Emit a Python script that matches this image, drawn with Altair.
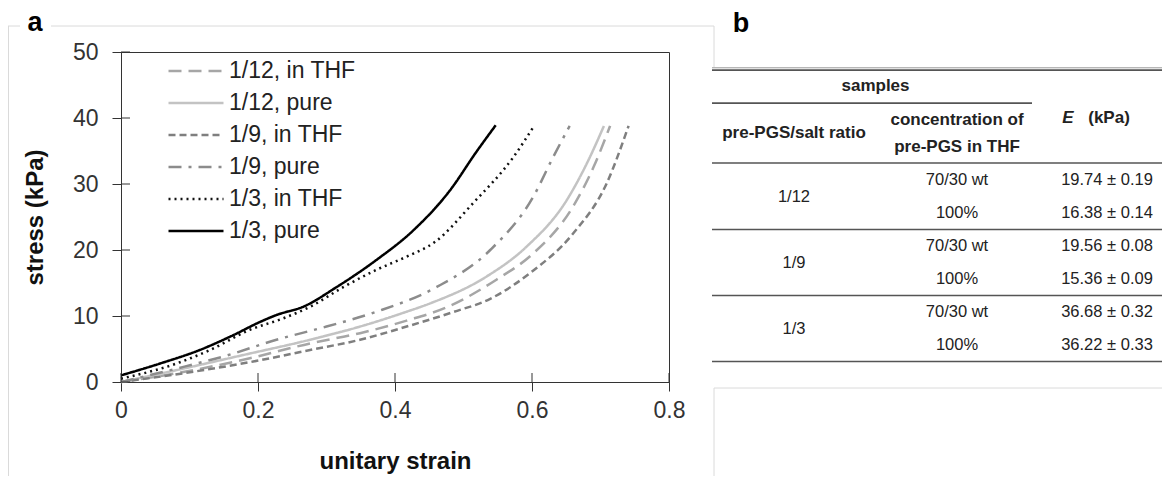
import altair as alt
import pandas as pd

# ---------------- panel a : stress-strain curves ----------------
series_names = ["1/12, in THF", "1/12, pure", "1/9, in THF", "1/9, pure", "1/3, in THF", "1/3, pure"]
series_colors = ["#a6a6a6", "#c3c3c3", "#7f7f7f", "#8c8c8c", "#111111", "#000000"]
series_dashes = [[13, 7], [1, 0], [7, 4], [13, 7, 3, 7], [2, 4], [1, 0]]

strain_12_thf = [0, 0.106, 0.188, 0.276, 0.349, 0.417, 0.475, 0.548, 0.602, 0.660, 0.690, 0.714]
stress_12_thf = [0, 1.8, 3.6, 5.85, 7.4, 9.3, 11.3, 15.5, 19.5, 26.6, 32.6, 38.8]

strain_12_pure = [0, 0.081, 0.179, 0.276, 0.349, 0.417, 0.451, 0.534, 0.592, 0.651, 0.680, 0.705]
stress_12_pure = [0, 1.8, 4.1, 6.4, 8.4, 10.65, 11.9, 16.0, 20.5, 27.6, 33.1, 38.8]

strain_9_thf = [0, 0.106, 0.193, 0.276, 0.349, 0.417, 0.485, 0.539, 0.597, 0.660, 0.709, 0.741]
stress_9_thf = [0, 1.56, 3.1, 4.85, 6.4, 8.4, 10.6, 12.6, 16.5, 22.5, 30.1, 38.8]

strain_9_pure = [0, 0.08, 0.154, 0.227, 0.30, 0.373, 0.461, 0.539, 0.602, 0.631, 0.655]
stress_9_pure = [0, 2.0, 4.0, 6.4, 8.4, 10.65, 14.4, 20.0, 28.1, 34.1, 38.8]

strain_3_thf = [0, 0.081, 0.13, 0.188, 0.237, 0.276, 0.325, 0.373, 0.417, 0.458, 0.514, 0.573, 0.603]
stress_3_thf = [0.5, 2.8, 4.85, 7.9, 9.65, 11.4, 14.4, 17.0, 19.0, 21.2, 27.1, 34.1, 38.8]

strain_3_pure = [0, 0.057, 0.115, 0.164, 0.203, 0.227, 0.266, 0.315, 0.373, 0.427, 0.480, 0.519, 0.547]
stress_3_pure = [1.0, 2.8, 4.85, 7.1, 9.1, 10.15, 11.4, 14.4, 18.5, 23.0, 29.0, 34.9, 38.9]

x_ticks = [0, 0.2, 0.4, 0.6, 0.8]
y_ticks = [0, 10, 20, 30, 40, 50]

# ---------------- panel b : table ----------------
ratio_col = ["1/12", "1/12", "1/9", "1/9", "1/3", "1/3"]
conc_col = ["70/30 wt", "100%", "70/30 wt", "100%", "70/30 wt", "100%"]
E_mean = [19.74, 16.38, 19.56, 15.36, 36.68, 36.22]
E_sd = [0.19, 0.14, 0.08, 0.09, 0.32, 0.33]
hdr_samples = "samples"
hdr_ratio = "pre-PGS/salt ratio"
hdr_conc = ["concentration of", "pre-PGS in THF"]
hdr_E_sym = "E"
hdr_E_unit = "(kPa)"

# ---------------- build tables ----------------
pairs = [
    (strain_12_thf, stress_12_thf), (strain_12_pure, stress_12_pure),
    (strain_9_thf, stress_9_thf), (strain_9_pure, stress_9_pure),
    (strain_3_thf, stress_3_thf), (strain_3_pure, stress_3_pure),
]
rows = []
for name, (xs, ys) in zip(series_names, pairs):
    for xv, yv in zip(xs, ys):
        rows.append({"series": name, "strain": xv, "stress": yv})
curves = pd.DataFrame(rows)

W, H = 548, 330
FONT = "Liberation Sans"

x_scale = alt.Scale(domain=[0, 0.8], nice=False, zero=False)
y_scale = alt.Scale(domain=[0, 50], nice=False)
x_axis = alt.Axis(values=x_ticks, format="~g", title="unitary strain", grid=False,
                  labelFlush=False, labelOverlap=False, tickSize=9, labelPadding=8,
                  labelFontSize=23, labelColor="#333", tickColor="#333", domainColor="#333",
                  titleFontSize=24, titleFontWeight="bold", titleColor="#111",
                  titleBaseline="alphabetic", titleY=86)
y_axis = alt.Axis(values=y_ticks, format="d", title="stress (kPa)", grid=False,
                  labelFlush=False, labelOverlap=False, tickSize=9, labelPadding=14,
                  labelFontSize=23, labelColor="#333", tickColor="#333", domainColor="#333",
                  titleFontSize=24, titleFontWeight="bold", titleColor="#111",
                  titleAngle=-90, titleBaseline="middle", titleAlign="center",
                  titleX=-86, titleY=H / 2)

leg = alt.Legend(orient="none", legendX=46, legendY=7, title=None, labelFontSize=23,
                 labelColor="#222", symbolType="stroke", symbolSize=3025,
                 symbolStrokeWidth=2.5, labelOffset=4, clipHeight=24, rowPadding=8,
                 padding=0, labelFont=FONT)

lines = alt.Chart(curves).mark_line(strokeWidth=2.5, interpolate="monotone").encode(
    x=alt.X("strain:Q", scale=x_scale, axis=x_axis),
    y=alt.Y("stress:Q", scale=y_scale, axis=y_axis),
    color=alt.Color("series:N", scale=alt.Scale(domain=series_names, range=series_colors), legend=leg),
    strokeDash=alt.StrokeDash("series:N", scale=alt.Scale(domain=series_names, range=series_dashes), legend=leg),
)

in_ticks_x = alt.Chart(pd.DataFrame({"strain": x_ticks})).mark_rule(color="#333").encode(
    x=alt.X("strain:Q", scale=x_scale, axis=x_axis),
    y=alt.value(H), y2=alt.value(H - 9),
)
in_ticks_y = alt.Chart(pd.DataFrame({"stress": y_ticks})).mark_rule(color="#333").encode(
    y=alt.Y("stress:Q", scale=y_scale, axis=y_axis),
    x=alt.value(0), x2=alt.value(9),
)
panel_a = alt.layer(lines, in_ticks_x, in_ticks_y)

# table geometry via scales (column index / row index -> pixels)
tx = alt.Scale(domain=[-0.5, 0, 1, 2, 2.5], range=[591, 673, 836, 986, 1041], nice=False, zero=False)
ty = alt.Scale(domain=[0, 5], range=[128, 293], nice=False, zero=False)

body = []
for i in range(len(conc_col)):
    body.append({"col": 1, "row": i, "t": conc_col[i]})
    body.append({"col": 2, "row": i, "t": f"{E_mean[i]:.2f} \u00b1 {E_sd[i]:.2f}"})
groups = {}
for i, r in enumerate(ratio_col):
    groups.setdefault(r, []).append(i)
for r, idx in groups.items():
    body.append({"col": 0, "row": sum(idx) / len(idx), "t": r})
body_df = pd.DataFrame(body)

hdr_df = pd.DataFrame([
    {"col": 0.5, "row": -2.85, "t": hdr_samples},
    {"col": 0, "row": -1.42, "t": hdr_ratio},
    {"col": 1, "row": -1.83, "t": hdr_conc[0]},
    {"col": 1, "row": -1.0, "t": hdr_conc[1]},
])

sep_rows = [-0.515] + [max(idx) + 0.5 for idx in groups.values()]
rule_df = pd.DataFrame(
    [{"c0": -0.5, "c1": 2.5, "row": -3.33}, {"c0": -0.5, "c1": 1.5, "row": -2.33}]
    + [{"c0": -0.5, "c1": 2.5, "row": r} for r in sep_rows]
)
rule_top_df = pd.DataFrame([{"c0": -0.5, "c1": 2.5, "row": -3.40}])

tX = lambda f: alt.X(f, scale=tx, axis=None)
tY = lambda f: alt.Y(f, scale=ty, axis=None)

t_rules = alt.Chart(rule_df).mark_rule(color="#555", strokeWidth=1.6).encode(
    x=tX("c0:Q"), x2="c1:Q", y=tY("row:Q"))
t_rule_top = alt.Chart(rule_top_df).mark_rule(color="#999", strokeWidth=1).encode(
    x=tX("c0:Q"), x2="c1:Q", y=tY("row:Q"))
t_body = alt.Chart(body_df).mark_text(fontSize=16.5, color="#222", baseline="middle", font=FONT).encode(
    x=tX("col:Q"), y=tY("row:Q"), text="t:N")
t_hdr = alt.Chart(hdr_df).mark_text(fontSize=17, fontWeight="bold", color="#222", baseline="middle", font=FONT).encode(
    x=tX("col:Q"), y=tY("row:Q"), text="t:N")
e_df = pd.DataFrame([{"col": 2, "row": -1.88, "s": hdr_E_sym, "u": hdr_E_unit}])
t_E = alt.Chart(e_df).mark_text(fontSize=17, fontWeight="bold", fontStyle="italic", color="#222",
                                baseline="middle", dx=-39, font=FONT).encode(
    x=tX("col:Q"), y=tY("row:Q"), text="s:N")
t_unit = alt.Chart(e_df).mark_text(fontSize=17, fontWeight="bold", color="#222",
                                   baseline="middle", dx=2, font=FONT).encode(
    x=tX("col:Q"), y=tY("row:Q"), text="u:N")

# faint figure frame (pixel identity scale, relative to plot origin)
frame_df = pd.DataFrame([
    {"x": -113, "x2": -101, "y": -26, "y2": -26},
    {"x": -70, "x2": 593, "y": -26, "y2": -26},
    {"x": -112.5, "x2": -112.5, "y": -26, "y2": 424},
    {"x": 593, "x2": 593, "y": -26, "y2": 15},
    {"x": 593, "x2": 593, "y": 336, "y2": 424},
    {"x": 593, "x2": 1041, "y": 336, "y2": 336},
])
frame = alt.Chart(frame_df).mark_rule(color="#dadada", strokeWidth=1).encode(
    x=alt.X("x:Q", scale=None, axis=None), x2="x2:Q",
    y=alt.Y("y:Q", scale=None, axis=None), y2="y2:Q")

lab_a = alt.Chart(pd.DataFrame({"t": ["a"]})).mark_text(
    fontSize=27, fontWeight="bold", color="#000", align="center", baseline="alphabetic", font=FONT
).encode(text="t:N", x=alt.value(-86), y=alt.value(-21))
lab_b = alt.Chart(pd.DataFrame({"t": ["b"]})).mark_text(
    fontSize=27, fontWeight="bold", color="#000", align="center", baseline="alphabetic", font=FONT
).encode(text="t:N", x=alt.value(620), y=alt.value(-20))

chart = alt.layer(
    frame, panel_a, t_rule_top, t_rules, t_body, t_hdr, t_E, t_unit, lab_a, lab_b
).resolve_scale(x="independent", y="independent").properties(
    width=W, height=H,
    autosize=alt.AutoSizeParams(type="none"),
    padding={"left": 113, "top": 44, "right": 493, "bottom": 94},
).configure(font=FONT).configure_view(stroke="#333", strokeWidth=1)

chart.save("out.html", embed_options={"renderer": "svg", "actions": False})
